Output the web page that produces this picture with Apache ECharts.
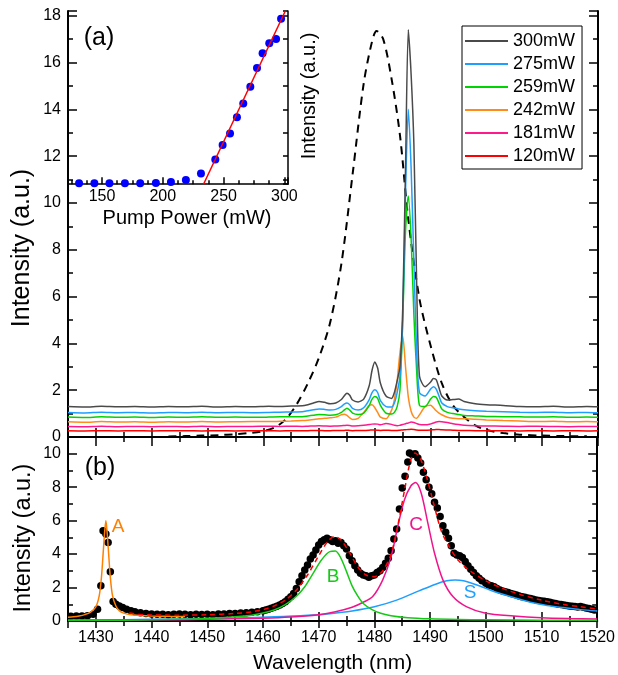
<!DOCTYPE html>
<html><head><meta charset="utf-8">
<script src="https://cdn.jsdelivr.net/npm/echarts@6/dist/echarts.min.js"></script>
<style>html,body{margin:0;padding:0;background:#fff}#c{width:618px;height:675px}</style>
</head><body><div id="c"></div>
<script>
// ---------- Panel (a): emission spectra ----------
const powerNames = ['300mW','275mW','259mW','242mW','181mW','120mW'];
const wlTop = [1425,1428,1431,1434,1437,1440,1443,1446,1449,1452,1455,1458,1461,1463,1465,1467,1468,1469,1470,1471,
  1472,1473,1474,1474.5,1475,1475.5,1476,1477,1478,1479,1479.5,1480,1480.5,1481,1482,1483,1483.5,1484,1484.5,1485,
  1485.5,1486,1486.5,1487,1487.5,1488,1489,1490,1490.5,1491,1491.5,1492,1493,1494,1495,1496,1498,1500,1503,1506,
  1509,1512,1515,1518,1520];
const p300 = [1.30,1.28,1.31,1.29,1.30,1.28,1.30,1.29,1.31,1.28,
  1.30,1.29,1.31,1.30,1.32,1.33,1.38,1.45,1.52,1.48,
  1.42,1.45,1.60,1.75,1.87,1.78,1.58,1.50,1.62,2.20,
  2.85,3.20,2.95,2.30,1.75,1.65,1.90,2.40,3.00,5.50,
  11.5,17.4,15.5,12.5,6.5,2.60,2.15,2.35,2.50,2.45,
  2.10,1.75,1.58,1.60,1.62,1.52,1.42,1.38,1.35,1.30,
  1.29,1.31,1.28,1.30,1.29];
const p275 = [1.05,1.03,1.06,1.04,1.05,1.03,1.05,1.04,1.06,1.04,
  1.05,1.04,1.05,1.06,1.07,1.08,1.12,1.16,1.20,1.18,
  1.15,1.18,1.30,1.40,1.45,1.38,1.22,1.15,1.25,1.60,
  1.90,2.02,1.90,1.55,1.30,1.28,1.45,1.90,2.60,5.00,
  10.5,14.0,11.5,7.50,3.60,1.90,1.75,2.05,2.15,2.05,
  1.75,1.45,1.30,1.25,1.20,1.16,1.12,1.10,1.08,1.06,
  1.05,1.06,1.04,1.05,1.04];
const p259 = [0.85,0.83,0.86,0.84,0.85,0.83,0.85,0.84,0.86,0.84,
  0.85,0.84,0.85,0.86,0.86,0.87,0.90,0.93,0.96,0.95,
  0.93,0.95,1.05,1.15,1.23,1.15,1.02,0.96,1.02,1.35,
  1.62,1.73,1.65,1.35,1.02,0.98,1.05,1.30,2.00,5.00,
  8.80,10.3,8.50,5.20,2.80,1.35,1.30,1.62,1.73,1.70,
  1.45,1.20,1.05,1.00,0.96,0.92,0.90,0.88,0.87,0.86,
  0.85,0.86,0.84,0.85,0.84];
const p242 = [0.65,0.63,0.66,0.64,0.65,0.63,0.65,0.64,0.66,0.64,
  0.65,0.66,0.66,0.67,0.68,0.70,0.72,0.75,0.78,0.80,
  0.82,0.85,0.95,0.97,0.92,0.82,0.75,0.80,1.05,1.35,
  1.38,1.25,1.05,0.85,0.78,1.15,1.60,2.40,3.60,4.30,
  3.00,1.70,1.10,0.85,0.80,0.95,1.30,1.36,1.25,1.12,
  1.02,0.95,0.84,0.80,0.78,0.78,0.76,0.73,0.70,0.68,
  0.66,0.67,0.65,0.66,0.65];
const p181 = [0.45,0.44,0.46,0.44,0.45,0.44,0.45,0.44,0.46,0.44,
  0.45,0.45,0.46,0.45,0.46,0.45,0.46,0.47,0.48,0.47,
  0.46,0.47,0.48,0.49,0.50,0.49,0.47,0.48,0.50,0.53,
  0.55,0.56,0.55,0.52,0.58,0.54,0.50,0.48,0.50,0.53,
  0.57,0.60,0.64,0.62,0.57,0.53,0.52,0.56,0.60,0.64,
  0.66,0.65,0.62,0.57,0.53,0.50,0.48,0.47,0.46,0.45,
  0.46,0.45,0.44,0.45,0.45];
const p120 = [0.27,0.26,0.27,0.26,0.27,0.26,0.27,0.27,0.26,0.27,
  0.26,0.27,0.27,0.26,0.27,0.27,0.27,0.28,0.28,0.27,
  0.27,0.28,0.28,0.28,0.29,0.28,0.27,0.28,0.28,0.29,
  0.30,0.30,0.29,0.28,0.29,0.28,0.28,0.28,0.29,0.30,
  0.31,0.32,0.33,0.32,0.30,0.29,0.29,0.30,0.31,0.32,
  0.32,0.31,0.30,0.29,0.28,0.28,0.27,0.27,0.27,0.26,
  0.27,0.26,0.27,0.26,0.27];
const powerValues = [p300,p275,p259,p242,p181,p120];
const powerColors = ['#4a4a4a','#1e9fff','#00d400','#ff8c1a','#ff1a8c','#ff0000'];

// dashed curve (panel a)
const dashWl  = [1443,1446,1449,1452,1455,1458,1460,1462,1464,1466,1468,1470,1472,1474,1476,1478,1479.5,1480.3,1481.5,1483,1484.5,1486,1488,1490,1492,1494,1496,1498,1500,1503,1506,1510,1514,1518];
const dashVal = [0.02,0.04,0.06,0.08,0.12,0.18,0.25,0.4,0.75,1.4,2.3,3.4,4.9,7.4,11.2,15.1,16.9,17.35,17.0,15.3,12.9,9.3,5.9,3.9,2.3,1.35,0.85,0.5,0.3,0.17,0.1,0.06,0.04,0.03];

// inset: output vs pump power
const pumpPower = [131.1,143.7,156.1,168.8,181.4,194.3,206.7,219.0,231.4,243.2,249.2,255.3,261.0,266.2,272.0,277.5,282.1,287.6,293.2,297.3];
const pumpOut   = [10.84,10.84,10.84,10.84,10.84,10.85,10.89,10.98,11.26,11.86,12.47,12.97,13.66,14.25,14.96,15.76,16.39,16.82,17.0,17.87];
const fitPump = [233.5,300.8];
const fitOut  = [10.8,18.2];

// ---------- Panel (b): fitted spectrum ----------
const dotWl = [1425.5,1426.5,1427.5,1428.5,1429.5,1430.3,1430.9,1431.3,1431.8,1432.2,1432.6,1433.1,1433.6,1434.2,1434.8,1435.5,1436.3,1437,1438,1439,
  1440,1441,1442,1443,1444,1445,1446,1447,1448,1449,1450,1451,1452,1453,1454,1455,1456,1457,1458,1459,
  1460,1460.5,1461,1461.5,1462,1462.5,1463,1463.5,1464,1464.5,1465,1465.5,1466,1466.5,1467,1467.5,1468,1468.5,1469,1469.5,
  1470,1470.5,1471,1471.5,1472,1472.5,1473,1473.5,1474,1474.5,1475,1475.5,1476,1476.5,1477,1477.5,1478,1478.5,1479,1479.5,
  1480,1480.5,1481,1481.5,1482,1482.5,1483,1483.5,1484,1484.5,1485,1485.5,1486,1486.3,1486.8,1487.3,1487.8,1488.3,1488.8,1489.3,
  1489.8,1490.3,1490.8,1491.3,1491.8,1492.3,1492.8,1493.3,1493.8,1494.3,1494.8,1495.3,1495.8,1496.3,1496.8,1497.3,1497.8,1498.3,1498.8,1499.3,
  1500,1500.5,1501,1501.5,1502,1502.5,1503,1503.5,1504,1504.5,1505,1505.5,1506,1506.5,1507,1507.5,1508,1508.5,1509,1509.5,
  1510,1510.5,1511,1511.5,1512,1512.5,1513,1513.5,1514,1514.5,1515,1515.5,1516,1516.5,1517,1517.5,1518,1518.5,1519,1519.5];
const dotVal = [0.28,0.30,0.30,0.32,0.40,0.70,2.10,5.40,5.20,4.70,2.95,1.16,1.00,0.90,0.80,0.70,0.62,0.55,0.50,0.45,
  0.42,0.40,0.40,0.38,0.40,0.42,0.40,0.38,0.40,0.39,0.40,0.38,0.42,0.42,0.45,0.45,0.48,0.50,0.52,0.56,
  0.62,0.66,0.70,0.76,0.82,0.88,0.96,1.05,1.15,1.30,1.45,1.65,1.95,2.35,2.70,3.05,3.35,3.70,3.95,4.25,
  4.55,4.75,4.85,4.95,4.85,4.75,4.80,4.65,4.70,4.50,4.30,3.90,3.60,3.30,3.05,2.85,2.75,2.70,2.62,2.70,
  2.75,2.90,3.00,3.20,3.45,3.75,4.20,4.90,5.50,6.70,7.95,8.65,9.50,10.05,9.95,10.00,9.75,9.45,8.90,8.45,
  8.00,7.60,7.10,6.75,6.25,5.70,5.30,4.95,4.50,4.05,3.95,3.90,3.80,3.55,3.30,3.10,2.90,2.70,2.55,2.40,
  2.25,2.15,2.10,2.05,1.95,1.85,1.80,1.75,1.70,1.65,1.60,1.55,1.50,1.45,1.42,1.38,1.35,1.30,1.25,1.22,
  1.20,1.18,1.15,1.12,1.08,1.05,1.00,0.98,0.96,0.92,0.90,0.88,0.86,0.84,0.86,0.82,0.78,0.74,0.70,0.66];

const fitWl  = [1436,1438,1440,1445,1450,1455,1458,1460,1462,1464,1466,1468,1470,1471.5,1472.8,1474,1475.5,1477,1478.5,1480,1481.5,1483,1484.2,1485.4,1486.5,1487.3,1488.2,1489.3,1490.5,1492,1493.5,1495,1497,1500,1503,1506,1510,1514,1517,1520];
const fitVal = [0.48,0.39,0.36,0.35,0.37,0.45,0.55,0.68,0.9,1.25,1.85,2.75,3.9,4.7,5.05,4.85,4.1,3.25,2.75,2.65,3.0,4.0,5.7,7.8,9.6,10.05,9.75,8.7,7.2,5.4,4.4,3.65,3.05,2.4,1.95,1.6,1.25,0.98,0.85,0.72];

const aWl  = [1425,1426,1427,1428,1429,1430,1430.6,1431,1431.3,1431.6,1431.8,1432.0,1432.3,1432.6,1433,1433.6,1434.2,1435,1436,1438,1440,1443,1446];
const aVal = [0.22,0.25,0.30,0.38,0.52,0.85,1.5,2.6,4.0,5.4,6.0,5.4,4.0,2.6,1.5,0.9,0.62,0.47,0.39,0.33,0.30,0.28,0.27];
const bWl  = [1425,1435,1445,1450,1455,1458,1460,1462,1464,1466,1467.5,1469,1470.5,1472,1473,1474,1475,1476,1477,1478,1479.5,1481,1483,1486,1490,1495,1500,1510,1520];
const bVal = [0.03,0.05,0.10,0.15,0.25,0.35,0.48,0.66,0.98,1.48,2.05,2.85,3.65,4.15,4.18,3.75,2.95,2.1,1.5,1.05,0.7,0.48,0.32,0.2,0.13,0.09,0.07,0.05,0.04];
const cWl  = [1425,1440,1450,1460,1465,1470,1473,1476,1478,1479.7,1481.5,1483,1484.2,1485.4,1486.6,1487.4,1488.4,1489.6,1490.8,1492.3,1494.1,1496.5,1500,1505,1510,1515,1520];
const cVal = [0.04,0.07,0.1,0.17,0.24,0.38,0.55,0.82,1.12,1.46,2.46,3.85,5.65,7.25,8.1,8.28,7.65,5.85,4.05,2.46,1.46,0.86,0.46,0.3,0.2,0.15,0.12];
const sWl  = [1425,1435,1445,1455,1462,1468,1472,1476,1480,1484,1488,1491,1493,1494.5,1496,1498,1500,1502,1505,1508,1511,1514,1517,1520];
const sVal = [0.05,0.08,0.12,0.18,0.25,0.34,0.44,0.6,0.85,1.25,1.8,2.2,2.4,2.45,2.4,2.2,1.95,1.7,1.4,1.12,0.93,0.8,0.68,0.6];

// ---------- build ----------
const FONT = 'Liberation Sans, Arial, sans-serif';
const zip = (xs, ys) => xs.map((x, i) => [x, ys[i]]);
const isMult = (v, m) => Math.abs(v / m - Math.round(v / m)) < 1e-6;

function ax(gridIndex, position, min, max, splitNumber, minorSplit, labelStep, tickLen, extra) {
  return Object.assign({
    type: 'value', gridIndex, position, min, max, splitNumber,
    axisLine: { show: true, lineStyle: { color: '#000', width: 2 } },
    splitLine: { show: false },
    axisTick: { show: tickLen > 0, inside: true, length: tickLen, lineStyle: { color: '#000', width: 1.5 } },
    minorTick: { show: minorSplit > 0 && tickLen > 0, splitNumber: minorSplit || 2, length: 5,
      lineStyle: { color: '#000', width: 1.5 } },
    axisLabel: labelStep ? { show: true, color: '#000', fontSize: 16, fontFamily: FONT, margin: 7,
      formatter: v => (isMult(v, labelStep) ? String(Math.round(v)) : '') } : { show: false }
  }, extra || {});
}

const xAxis = [
  ax(0,'bottom',1425,1520,10,2,null,9),
  ax(0,'top',1425,1520,10,2,null,9),
  ax(1,'bottom',1425,1520,10,2,10,9,{name:'Wavelength (nm)',nameLocation:'middle',nameGap:32,
    nameTextStyle:{fontSize:21,fontFamily:FONT,color:'#000'}}),
  ax(1,'top',1425,1520,10,2,null,7),
  ax(2,'bottom',122,303,4,4,50,7)
];
xAxis[2].axisLabel.margin = 9;
xAxis[4].axisLabel.margin = 4;
xAxis[4].axisLine.lineStyle.width = 1.5;
xAxis[4].minorTick.length = 4;

const yAxis = [
  ax(0,'left',0,18.2,9,2,2,9),
  ax(0,'right',0,18.2,9,2,null,9),
  ax(1,'left',0,11,5,2,2,9),
  ax(1,'right',0,11,5,2,null,9),
  ax(2,'left',10.8,18.2,7,0,null,0),
  ax(2,'right',10.8,18.2,7,0,null,5)
];
yAxis[4].axisLine.show = false;
yAxis[5].axisLine.lineStyle.width = 1.5;

const series = [];
series.push({ type:'line', name:'gain', xAxisIndex:0, yAxisIndex:0, data: zip(dashWl, dashVal),
  showSymbol:false, smooth:0.3, lineStyle:{ color:'#000', width:2, type:[8,6] }, z:3 });
for (let k = powerNames.length - 1; k >= 0; k--) {
  series.push({ type:'line', name: powerNames[k], xAxisIndex:0, yAxisIndex:0,
    data: zip(wlTop, powerValues[k]), showSymbol:false, smooth:0.25,
    color: powerColors[k], lineStyle:{ color: powerColors[k], width:1.5 } });
}
series.push({ type:'scatter', name:'data', xAxisIndex:2, yAxisIndex:2, data: zip(dotWl, dotVal),
  symbolSize:7.5, itemStyle:{ color:'#000', opacity:1 }, z:2 });
const comps = [[sWl,sVal,'#1e9fff'],[cWl,cVal,'#f0148c'],[bWl,bVal,'#16c916'],[aWl,aVal,'#ff8000']];
comps.forEach(([w,v,c]) => series.push({ type:'line', xAxisIndex:2, yAxisIndex:2, data: zip(w,v),
  showSymbol:false, smooth:0.3, lineStyle:{ color:c, width:1.5 }, z:3 }));
series.push({ type:'line', name:'fit', xAxisIndex:2, yAxisIndex:2, data: zip(fitWl, fitVal),
  showSymbol:false, smooth:0.3, lineStyle:{ color:'#ff0000', width:1.5, type:[5,4] }, z:4 });
series.push({ type:'scatter', xAxisIndex:4, yAxisIndex:4, data: zip(pumpPower, pumpOut),
  symbolSize:8, itemStyle:{ color:'#0000ff', opacity:1 }, z:5 });
series.push({ type:'line', xAxisIndex:4, yAxisIndex:4, data: zip(fitPump, fitOut),
  showSymbol:false, lineStyle:{ color:'#ff0000', width:1.5 }, z:6 });

function txt(t, x, y, size, color, rot) {
  return { type:'text', x, y, rotation: rot || 0, z: 100,
    style:{ text:t, fill: color || '#000', fontSize:size, fontFamily:FONT, align:'center', verticalAlign:'middle' } };
}

const option = {
  animation: false,
  backgroundColor: '#fff',
  grid: [
    { left:68, top:11, width:530, height:426 },
    { left:68, top:437, width:530, height:184 },
    { left:68, top:11, width:220, height:173.2, show:true, borderWidth:0, backgroundColor:'#fff' }
  ],
  xAxis, yAxis, series,
  legend: {
    data: powerNames, orient:'vertical', left:462, top:26, itemWidth:43, itemHeight:2, itemGap:5,
    icon:'rect', borderColor:'#000', borderWidth:1, padding:[6,7,4,3], backgroundColor:'#fff',
    textStyle:{ fontSize:18, fontFamily:FONT, color:'#000', lineHeight:18 }
  },
  graphic: [
    txt('(a)', 99, 38, 25),
    txt('(b)', 100, 468, 25),
    txt('Pump Power (mW)', 187, 218, 20),
    txt('Intensity (a.u.)', 309, 96, 20, '#000', Math.PI/2),
    txt('Intensity (a.u.)', 22, 248, 25, '#000', Math.PI/2),
    txt('Intensity (a.u.)', 24, 538, 23.5, '#000', Math.PI/2),
    txt('A', 118, 527, 19, '#ff8000'),
    txt('B', 333, 577, 19, '#16c916'),
    txt('C', 416, 525, 19, '#f0148c'),
    txt('S', 470, 593, 19, '#1e9fff')
  ]
};
const chart = echarts.init(document.getElementById('c'), null, { renderer:'canvas', devicePixelRatio:1 });
chart.setOption(option);
</script></body></html>
